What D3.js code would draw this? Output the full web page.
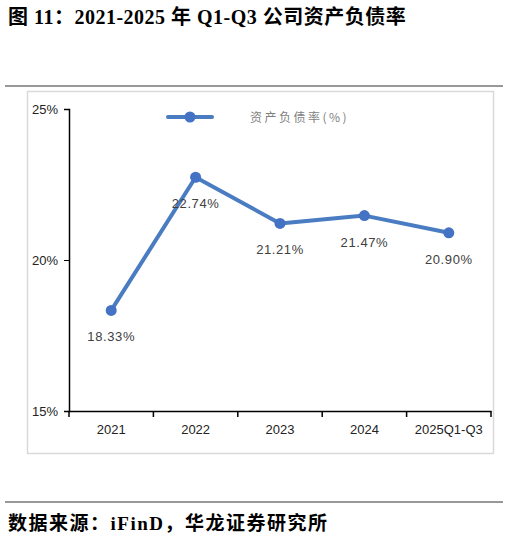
<!DOCTYPE html>
<html><head><meta charset="utf-8">
<script src="https://cdn.jsdelivr.net/npm/d3@7"></script>
<style>body{margin:0;background:#fff}</style>
</head><body>
<svg id="c" width="509" height="543"></svg>
<script>
const categories = ["2021","2022","2023","2024","2025Q1-Q3"];
const values = [18.33, 22.74, 21.21, 21.47, 20.90];
const yTicks = [15, 20, 25];
const seriesName = "资产负债率(%)";
const titleText = "图 11：2021-2025 年 Q1-Q3 公司资产负债率";
const sourceText = "数据来源：iFinD，华龙证券研究所";

const svg = d3.select("#c");
const serif = "'Liberation Serif','Noto Sans CJK SC',serif";
const cjk = "'Noto Sans CJK SC',sans-serif";
const blue = "#4a7cc2";

svg.append("text").attr("x",8).attr("y",24).attr("font-family",serif)
  .attr("font-weight","bold").attr("font-size",20).attr("letter-spacing",0.5).attr("fill","#000").text(titleText);
svg.append("line").attr("x1",5).attr("x2",503).attr("y1",86).attr("y2",86).attr("stroke","#333").attr("stroke-width",1);
svg.append("line").attr("x1",5).attr("x2",503).attr("y1",502).attr("y2",502).attr("stroke","#333").attr("stroke-width",1);
svg.append("text").attr("x",8).attr("y",530).attr("font-family",serif)
  .attr("font-weight","bold").attr("font-size",19).attr("letter-spacing",1.5).attr("fill","#000").text(sourceText);

// frame
svg.append("rect").attr("x",27.5).attr("y",91.5).attr("width",466).attr("height",362)
  .attr("fill","none").attr("stroke","#d9d9d9").attr("stroke-width",1.5);

const x = d3.scaleBand().domain(categories).range([69,491]);
const y = d3.scaleLinear().domain([15,25]).range([411,109]);

const gy = svg.append("g").attr("transform","translate(69,0)")
  .call(d3.axisLeft(y).tickValues(yTicks).tickFormat(d=>d+"%").tickSize(5).tickPadding(6));
gy.select(".domain").attr("stroke","#000").attr("stroke-width",1.5);
gy.selectAll("text").attr("font-family","'Liberation Sans',Arial,sans-serif").attr("font-size",13).attr("fill","#222");

const gx = svg.append("g").attr("transform","translate(0,411)")
  .call(d3.axisBottom(x).tickValues(categories).tickSize(0).tickPadding(14));
gx.select(".domain").attr("stroke","#000").attr("stroke-width",1.5);
gx.selectAll("text").attr("font-family","'Liberation Sans',Arial,sans-serif").attr("font-size",13).attr("fill","#222");
// boundary ticks
const bounds = categories.map(c=>x(c)).concat([x.range()[1]]);
svg.append("g").selectAll("line").data(bounds).join("line")
  .attr("x1",d=>d).attr("x2",d=>d).attr("y1",411).attr("y2",417).attr("stroke","#000").attr("stroke-width",1.5);

const cx = d=>x(d.c)+x.bandwidth()/2;
const data = categories.map((c,i)=>({c,v:values[i]}));
svg.append("path").datum(data)
  .attr("d",d3.line().x(cx).y(d=>y(d.v)))
  .attr("fill","none").attr("stroke",blue).attr("stroke-width",4).attr("stroke-linejoin","round");
svg.append("g").selectAll("circle").data(data).join("circle")
  .attr("cx",cx).attr("cy",d=>y(d.v)).attr("r",5.5).attr("fill","#4472c4");
svg.append("g").selectAll("text").data(data).join("text")
  .attr("x",cx).attr("y",d=>y(d.v)+31).attr("text-anchor","middle")
  .attr("font-family","'Liberation Sans',Arial,sans-serif").attr("font-size",13).attr("letter-spacing",0.6)
  .attr("fill","#404040").text(d=>d.v.toFixed(2)+"%");

// legend
svg.append("line").attr("x1",168).attr("x2",212).attr("y1",117).attr("y2",117)
  .attr("stroke",blue).attr("stroke-width",4).attr("stroke-linecap","round");
svg.append("circle").attr("cx",190).attr("cy",117).attr("r",5.5).attr("fill","#4472c4");
svg.append("text").attr("x",250).attr("y",121.5).attr("font-family",cjk).attr("font-size",12)
  .attr("letter-spacing",2.5).attr("fill","#7f7f7f").text(seriesName);
</script>
</body></html>
